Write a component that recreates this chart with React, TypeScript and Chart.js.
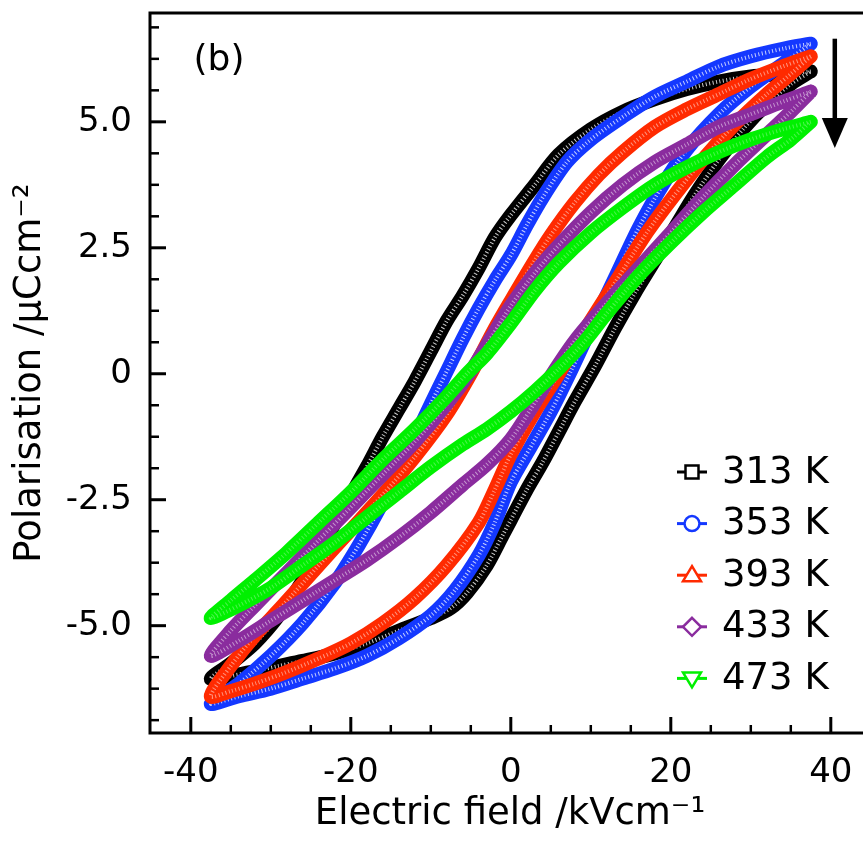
import React, { useEffect, useRef } from 'react';
import { Chart, registerables } from 'chart.js';
Chart.register(...registerables);

const labels = ['313 K', '353 K', '393 K', '433 K', '473 K'];
const colors = ['#000000', '#1438ff', '#ff2a00', '#8a2c9e', '#00f000'];
const hatchAlpha = [0.8, 0.75, 0.5, 0.5, 0.3];
const markerKinds = ['square', 'circle', 'triangle', 'diamond', 'triangleDown'];

// 313 K : descending branch (from +Emax) then ascending branch
const e313Down = [37.5, 34, 30, 26, 22, 18, 14, 10, 6, 3, 0, -2, -4, -6, -8, -10, -12, -14, -16, -18, -20.5, -23, -26, -29, -32, -35, -37.5];
const p313Down = [6.0, 5.95, 5.9, 5.8, 5.65, 5.45, 5.2, 4.85, 4.35, 3.75, 3.15, 2.7, 2.1, 1.55, 1.05, 0.45, -0.15, -0.7, -1.25, -1.85, -2.55, -3.25, -4.1, -4.8, -5.35, -5.75, -6.05];
const e313Up = [-35, -32, -29, -26, -22, -18, -14, -10, -7.5, -5.5, -3, -1, 0, 2, 4, 6, 8, 10.5, 13, 15.5, 18, 20.5, 23, 26, 29, 32, 35, 37.5];
const p313Up = [-6.0, -5.9, -5.8, -5.7, -5.55, -5.35, -5.1, -4.85, -4.65, -4.35, -3.8, -3.2, -2.9, -2.3, -1.75, -1.15, -0.55, 0.15, 0.9, 1.6, 2.25, 2.9, 3.55, 4.25, 4.85, 5.35, 5.75, 6.0];

// 353 K
const e353Down = [37.5, 34, 30, 26, 22, 18, 14, 10, 7, 4, 2, 0, -2, -4, -6, -8, -10, -13, -16, -19, -22, -26, -30, -34, -37.5];
const p353Down = [6.55, 6.45, 6.3, 6.1, 5.8, 5.5, 5.1, 4.65, 4.2, 3.5, 2.95, 2.35, 1.85, 1.3, 0.7, 0.05, -0.6, -1.6, -2.55, -3.4, -4.15, -4.95, -5.6, -6.15, -6.55];
const e353Up = [-34, -30, -26, -22, -18, -14, -10, -7, -4, -2, 0, 2.5, 5, 7.5, 10, 13, 16, 19, 22, 26, 30, 34, 37.5];
const p353Up = [-6.4, -6.25, -6.05, -5.85, -5.6, -5.25, -4.8, -4.3, -3.6, -2.95, -2.15, -1.45, -0.75, 0.05, 0.9, 1.9, 2.9, 3.75, 4.45, 5.15, 5.7, 6.15, 6.55];

// 393 K
const e393Down = [37.5, 34, 30, 26, 22, 18, 14, 11, 8, 5, 3, 0, -2, -5, -8, -12, -16, -20, -24, -28.5, -32, -35, -37.5];
const p393Down = [6.3, 6.1, 5.85, 5.55, 5.25, 4.9, 4.4, 3.95, 3.4, 2.75, 2.25, 1.45, 0.9, 0.0, -0.8, -1.65, -2.4, -3.1, -3.8, -4.6, -5.2, -5.8, -6.4];
const e393Up = [-35, -32, -28.5, -24, -20, -16, -12, -8, -4, -2, 0, 3, 6, 9, 13, 17, 20, 24, 28, 32, 35, 37.5];
const p393Up = [-6.3, -6.15, -5.95, -5.65, -5.35, -4.95, -4.45, -3.8, -2.95, -2.3, -1.6, -0.75, 0.0, 0.8, 1.8, 2.8, 3.45, 4.25, 4.95, 5.55, 5.95, 6.3];

// 433 K
const e433Down = [37.5, 34, 30, 26, 22, 18, 14, 10, 6, 3, 0, -2.5, -5, -8, -12, -16, -20, -24, -28, -32, -35, -37.5];
const p433Down = [5.6, 5.4, 5.15, 4.9, 4.55, 4.2, 3.75, 3.2, 2.55, 2.0, 1.35, 0.7, 0.05, -0.6, -1.35, -2.0, -2.65, -3.3, -3.95, -4.6, -5.1, -5.6];
const e433Up = [-34, -30, -26, -22, -18, -14, -10, -6, -3, 0, 2.5, 5, 8, 12, 16, 20, 24, 28, 32, 35, 37.5];
const p433Up = [-5.3, -4.9, -4.5, -4.1, -3.7, -3.25, -2.75, -2.2, -1.8, -1.3, -0.7, -0.05, 0.65, 1.4, 2.1, 2.8, 3.5, 4.15, 4.75, 5.2, 5.6];

// 473 K
const e473Down = [37.5, 34, 30, 26, 22, 18, 14, 10, 6, 3, 0, -3, -5.5, -8, -12, -16, -20, -24, -28, -32, -35, -37.5];
const p473Down = [5.0, 4.85, 4.65, 4.4, 4.1, 3.75, 3.3, 2.8, 2.2, 1.65, 1.0, 0.4, 0.0, -0.45, -1.1, -1.7, -2.35, -2.95, -3.55, -4.1, -4.5, -4.85];
const e473Up = [-34, -30, -26, -22, -18, -14, -10, -6, -3, 0, 3, 6, 9, 12, 16, 20, 24, 28, 32, 35, 37.5];
const p473Up = [-4.6, -4.25, -3.8, -3.35, -2.85, -2.35, -1.85, -1.4, -1.1, -0.75, -0.35, 0.1, 0.6, 1.2, 1.95, 2.6, 3.2, 3.75, 4.3, 4.65, 5.0];

const xTicks = [-40, -20, 0, 20, 40];
const yTicks = [-5, -2.5, 0, 2.5, 5];

const loops = [
  [e313Down.concat(e313Up), p313Down.concat(p313Up)],
  [e353Down.concat(e353Up), p353Down.concat(p353Up)],
  [e393Down.concat(e393Up), p393Down.concat(p393Up)],
  [e433Down.concat(e433Up), p433Down.concat(p433Up)],
  [e473Down.concat(e473Up), p473Down.concat(p473Up)],
];

const FONT = "'DejaVu Sans', sans-serif";

function drawMarker(ctx: CanvasRenderingContext2D, kind: string, cx: number, cy: number) {
  ctx.beginPath();
  if (kind === 'square') {
    ctx.rect(cx - 6.5, cy - 6.5, 13, 13);
  } else if (kind === 'circle') {
    ctx.arc(cx, cy, 7.5, 0, Math.PI * 2);
  } else if (kind === 'triangle') {
    ctx.moveTo(cx, cy - 9);
    ctx.lineTo(cx + 9, cy + 6);
    ctx.lineTo(cx - 9, cy + 6);
    ctx.closePath();
  } else if (kind === 'diamond') {
    ctx.moveTo(cx, cy - 9);
    ctx.lineTo(cx + 9, cy);
    ctx.lineTo(cx, cy + 9);
    ctx.lineTo(cx - 9, cy);
    ctx.closePath();
  } else {
    ctx.moveTo(cx, cy + 9);
    ctx.lineTo(cx + 9, cy - 6);
    ctx.lineTo(cx - 9, cy - 6);
    ctx.closePath();
  }
  ctx.fillStyle = '#fff';
  ctx.fill();
  ctx.stroke();
}

const framePlugin = {
  id: 'frameTicks',
  afterDatasetsDraw(chart: any) {
    const { ctx, chartArea } = chart;
    const { left, right, top, bottom } = chartArea;
    const xs = chart.scales.x;
    const ys = chart.scales.y;
    ctx.save();
    ctx.strokeStyle = '#000';
    ctx.lineWidth = 3;
    ctx.beginPath();
    ctx.moveTo(left, bottom);
    ctx.lineTo(left, top);
    ctx.lineTo(right + 5, top);
    ctx.moveTo(left - 1.5, bottom);
    ctx.lineTo(right + 5, bottom);
    ctx.stroke();
    for (let v = -45; v <= 45; v += 5) {
      const px = xs.getPixelForValue(v);
      if (px < left + 2 || px > right) continue;
      const major = xTicks.includes(v);
      ctx.lineWidth = major ? 3 : 2.5;
      ctx.beginPath();
      ctx.moveTo(px, bottom);
      ctx.lineTo(px, bottom - (major ? 16 : 8));
      ctx.stroke();
    }
    for (let k = -12; k <= 12; k++) {
      const v = k * 0.625;
      const py = ys.getPixelForValue(v);
      if (py < top + 2 || py > bottom - 2) continue;
      const major = k % 4 === 0;
      ctx.lineWidth = major ? 3 : 2.5;
      ctx.beginPath();
      ctx.moveTo(left, py);
      ctx.lineTo(left + (major ? 16 : 9), py);
      ctx.stroke();
    }
    ctx.restore();
  },
  afterDraw(chart: any) {
    const { ctx, chartArea } = chart;
    const xs = chart.scales.x;
    const ys = chart.scales.y;
    ctx.save();
    ctx.fillStyle = '#000';
    ctx.font = `36px ${FONT}`;
    ctx.textAlign = 'center';
    ctx.textBaseline = 'middle';
    ctx.fillText('(b)', chartArea.left + 69, chartArea.top + 48);
    const ax = xs.getPixelForValue(40.5);
    const ay1 = ys.getPixelForValue(6.65);
    const ay2 = ys.getPixelForValue(4.48);
    ctx.strokeStyle = '#000';
    ctx.lineWidth = 4.5;
    ctx.beginPath();
    ctx.moveTo(ax, ay1);
    ctx.lineTo(ax, ay2 - 25);
    ctx.stroke();
    ctx.beginPath();
    ctx.moveTo(ax - 13, ay2 - 30);
    ctx.lineTo(ax + 13, ay2 - 30);
    ctx.lineTo(ax, ay2);
    ctx.closePath();
    ctx.fill();
    const lx = 692;
    const ly0 = 472;
    const step = 51.6;
    labels.forEach((lab, i) => {
      const cy = ly0 + i * step;
      ctx.strokeStyle = colors[i];
      ctx.lineWidth = 3;
      ctx.beginPath();
      ctx.moveTo(lx - 15, cy);
      ctx.lineTo(lx + 15, cy);
      ctx.stroke();
      ctx.lineWidth = 2.5;
      drawMarker(ctx, markerKinds[i], lx, cy);
      ctx.fillStyle = '#000';
      ctx.font = `37px ${FONT}`;
      ctx.textAlign = 'left';
      ctx.textBaseline = 'middle';
      ctx.fillText(lab, 722, cy + 1);
    });
    ctx.restore();
  },
};

export default function App() {
  const ref = useRef<HTMLCanvasElement>(null);
  useEffect(() => {
    const datasets: any[] = [];
    loops.forEach(([es, ps], i) => {
      const pts = es.map((x, j) => ({ x, y: ps[j] }));
      datasets.push({
        label: labels[i],
        data: pts,
        showLine: true,
        borderColor: colors[i],
        backgroundColor: colors[i],
        borderWidth: 14,
        borderJoinStyle: 'round',
        borderCapStyle: 'round',
        pointRadius: 0,
        tension: 0.3,
        fill: false,
        order: 2 * (4 - i) + 1,
      });
      datasets.push({
        label: labels[i] + ' hatch',
        data: pts,
        showLine: true,
        borderColor: `rgba(255,255,255,${hatchAlpha[i]})`,
        borderWidth: 4,
        borderDash: [1, 2.5],
        pointRadius: 0,
        tension: 0.3,
        fill: false,
        order: 2 * (4 - i),
      });
    });
    const chart = new Chart(ref.current as HTMLCanvasElement, {
      type: 'scatter',
      data: { datasets },
      options: {
        animation: false,
        responsive: false,
        events: [],
        layout: { padding: { top: 13, right: 10, left: 0, bottom: 0 } },
        plugins: { legend: { display: false }, tooltip: { enabled: false } },
        scales: {
          x: {
            type: 'linear',
            min: -45.1,
            max: 44.9,
            afterFit: (s: any) => { s.height = 113; s.paddingLeft = 0; s.paddingRight = 0; },
            afterBuildTicks: (s: any) => { s.ticks = xTicks.map((v) => ({ value: v })); },
            grid: { display: false, drawTicks: false },
            border: { display: false },
            ticks: {
              color: '#000',
              font: { family: FONT, size: 34 },
              padding: 20,
              maxRotation: 0,
              autoSkip: false,
              callback: (v: any) => String(v),
            },
            title: {
              display: true,
              text: 'Electric field /kVcm\u207B\u00B9',
              color: '#000',
              font: { family: FONT, size: 37 },
              padding: { top: 0, bottom: 9 },
            },
          },
          y: {
            type: 'linear',
            min: -7.13,
            max: 7.16,
            afterFit: (s: any) => { s.width = 150; s.paddingTop = 0; s.paddingBottom = 0; },
            afterBuildTicks: (s: any) => { s.ticks = yTicks.map((v) => ({ value: v })); },
            grid: { display: false, drawTicks: false },
            border: { display: false },
            ticks: {
              color: '#000',
              font: { family: FONT, size: 34 },
              padding: 18,
              autoSkip: false,
              callback: (v: any) => (Math.abs(v) < 1e-9 ? '0' : Number(v).toFixed(1)),
            },
            title: {
              display: true,
              text: 'Polarisation /\u03BCCcm\u207B\u00B2',
              color: '#000',
              font: { family: FONT, size: 37 },
              padding: { top: 8, bottom: 0 },
            },
          },
        },
      },
      plugins: [framePlugin],
    } as any);
    return () => chart.destroy();
  }, []);
  return (
    <div style={{ position: 'fixed', left: 0, top: 0, width: 863, height: 846, overflow: 'hidden', background: '#fff' }}>
      <canvas ref={ref} width={880} height={846} style={{ display: 'block', width: 880, height: 846 }} />
    </div>
  );
}
